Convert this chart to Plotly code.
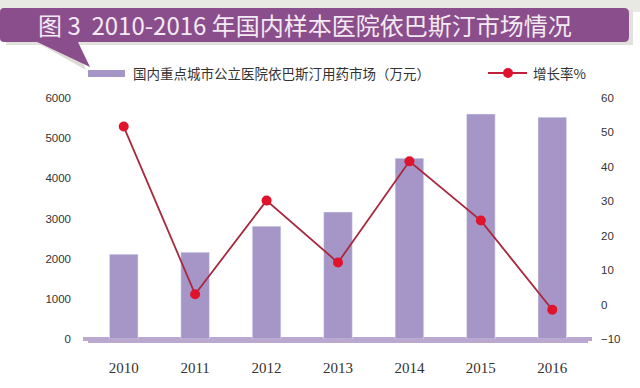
import plotly.graph_objects as go

years = ["2010", "2011", "2012", "2013", "2014", "2015", "2016"]
market = [2110, 2160, 2810, 3160, 4500, 5600, 5520]
growth = [51.7, 3.0, 30.2, 12.2, 41.6, 24.4, -1.5]

bar_name = "国内重点城市公立医院依巴斯汀用药市场（万元）"
line_name = "增长率%"
title_text = "图 3  2010-2016 年国内样本医院依巴斯汀市场情况"

W, H = 640, 388
L, R, T, B = 88, 588, 98, 339


def px(x):
    return (x - L) / (R - L)


def py(y):
    return (B - y) / (B - T)


fig = go.Figure()
fig.add_trace(go.Bar(x=years, y=market, name=bar_name, marker_color="#a696c7",
                     width=0.4, yaxis="y", showlegend=False))
fig.add_trace(go.Scatter(x=years, y=growth, name=line_name, mode="lines+markers",
                         line=dict(color="#a8283e", width=1.8),
                         marker=dict(color="#e0122c", size=10),
                         yaxis="y2", showlegend=False))

shapes = []
# top light strip
shapes.append(dict(type="rect", xref="paper", yref="paper", x0=px(0), x1=px(640), y0=py(12), y1=py(0),
                   fillcolor="#e8e9e2", line_width=0, layer="below"))
# banner shadow
shapes.append(dict(type="path", xref="paper", yref="paper",
                   path=f"M {px(6)},{py(10)} L {px(633)},{py(10)} L {px(633)},{py(45)} L {px(6)},{py(45)} Z",
                   fillcolor="#e2e2dc", line_width=0))
# tail shadow
shapes.append(dict(type="path", xref="paper", yref="paper",
                   path=f"M {px(36)},{py(42)} L {px(75)},{py(44)} L {px(86)},{py(70)} Z",
                   fillcolor="#dcdcd4", line_width=0))
# tail
shapes.append(dict(type="path", xref="paper", yref="paper",
                   path=f"M {px(33)},{py(40)} L {px(77)},{py(40)} L {px(90)},{py(67)} Z",
                   fillcolor="#8b4e8c", line_width=0))
# banner
shapes.append(dict(type="path", xref="paper", yref="paper",
                   path=(f"M {px(4)},{py(8)} L {px(624)},{py(8)} Q {px(629)},{py(8)} {px(629)},{py(13)} "
                         f"L {px(629)},{py(37)} Q {px(629)},{py(42)} {px(624)},{py(42)} "
                         f"L {px(4)},{py(42)} Q {px(0)},{py(42)} {px(0)},{py(38)} L {px(0)},{py(12)} Q {px(0)},{py(8)} {px(4)},{py(8)} Z"),
                   fillcolor="#8b4e8c", line_width=0))
# legend swatches
shapes.append(dict(type="rect", xref="paper", yref="paper", x0=px(88), x1=px(125), y0=py(77), y1=py(70),
                   fillcolor="#a696c7", line_width=0))
shapes.append(dict(type="line", xref="paper", yref="paper", x0=px(488), x1=px(527), y0=py(73), y1=py(73),
                   line=dict(color="#c0203a", width=2)))
shapes.append(dict(type="circle", xref="paper", yref="paper", x0=px(503), x1=px(513), y0=py(78), y1=py(68),
                   fillcolor="#e0122c", line_width=0))
# extended axis baseline
shapes.append(dict(type="line", xref="paper", yref="paper", x0=px(83), x1=px(592), y0=py(339), y1=py(339),
                   line=dict(color="#baa8cf", width=4), layer="below"))

annotations = [
    dict(text=title_text, xref="paper", yref="paper", x=px(36), y=py(25), xanchor="left", yanchor="middle",
         showarrow=False, font=dict(family="Noto Sans CJK SC", size=24, color="#f3eaf3")),
    dict(text=bar_name, xref="paper", yref="paper", x=px(131), y=py(73.5), xanchor="left", yanchor="middle",
         showarrow=False, font=dict(family="Noto Sans CJK SC", size=13.5, color="#333333")),
    dict(text=line_name, xref="paper", yref="paper", x=px(531), y=py(73.5), xanchor="left", yanchor="middle",
         showarrow=False, font=dict(family="Noto Sans CJK SC", size=13.5, color="#333333")),
]

fig.update_layout(
    width=W, height=H,
    margin=dict(l=L, r=W - R, t=T, b=H - B, pad=0),
    paper_bgcolor="white", plot_bgcolor="white",
    shapes=shapes, annotations=annotations,
    xaxis=dict(showgrid=False, showline=True, linecolor="#baa8cf", linewidth=4, automargin=False,
               ticks="", tickson="boundaries",
               tickfont=dict(family="Liberation Serif", size=15, color="#333333"),
               ticklabelstandoff=12),
    yaxis=dict(range=[0, 6000], dtick=1000, showgrid=False, zeroline=False, showline=False, automargin=False,
               tickfont=dict(family="Liberation Sans", size=11.5, color="#333333"), ticklabelstandoff=16),
    yaxis2=dict(range=[-10, 60], dtick=10, overlaying="y", side="right", showgrid=False, zeroline=False,
                showline=False, automargin=False,
                tickfont=dict(family="Liberation Sans", size=11.5, color="#333333"),
                ticklabelstandoff=12),
)

fig.write_html("out.html", config={"displayModeBar": False},
               post_script="document.body.style.margin='0';document.body.style.padding='0';")
